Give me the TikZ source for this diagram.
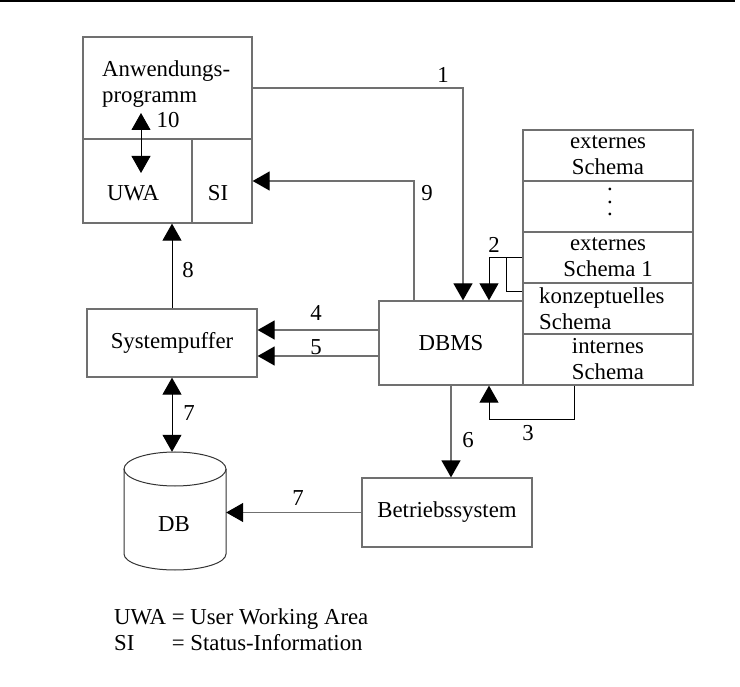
\documentclass[tikz,border=0pt]{standalone}
\usepackage{fontspec}
\setmainfont{Liberation Serif}
\usetikzlibrary{arrows.meta,calc}
\definecolor{Line}{RGB}{112,112,112}

\begin{document}
\begin{tikzpicture}[x=1pt,y=-1pt,
  font=\fontsize{22.8}{26}\selectfont,
  box/.style={draw=Line,line width=1.3pt,rectangle,inner sep=0pt,align=center},
  lbl/.style={inner sep=0pt},
  arr/.style={draw=Line,line width=1.3pt,-{Triangle[length=17pt,width=19pt,color=black]}},
  arrk/.style={draw=black,line width=0.9pt,-{Triangle[length=17pt,width=19pt]}},
  dbl/.style={draw=black,line width=0.9pt,{Triangle[length=17pt,width=19pt]}-{Triangle[length=17pt,width=19pt]}},
  cyl/.style={draw=black!80,line width=1pt}]
  \useasboundingbox (0,0) rectangle (740,687);
  \draw[line width=1.5pt] (0,1) -- (735,1);

  % Anwendungsprogramm
  \node[box,minimum width=169pt,minimum height=102pt] (prog) at (167.5,88) {};
  \node[box,minimum width=109pt,minimum height=84pt] (uwa) at (137.5,181) {};
  \node[box,minimum width=60pt,minimum height=84pt] (si) at (222,181) {};
  \node[lbl,anchor=west,align=left] (progtxt) at (102,84) {Anwendungs-\\programm};
  \node[lbl] (uwatxt) at (133,193) {UWA};
  \node[lbl] (sitxt) at (218,193) {SI};

  % Schemata
  \node[box,minimum width=170pt,minimum height=51pt] (s1) at (608,155.5) {externes\\Schema};
  \node[box,minimum width=170pt,minimum height=51pt] (s2) at (608,206.5) {};
  \node[box,minimum width=170pt,minimum height=51pt] (s3) at (608,257.5) {externes\\Schema 1};
  \node[box,minimum width=170pt,minimum height=51pt] (s4) at (608,308.5) {};
  \node[box,minimum width=170pt,minimum height=51pt] (s5) at (608,359.5) {internes\\Schema};
  \node[lbl] (dots) at (610,202) {\vbox{\baselineskip=12.5pt\lineskiplimit=-20pt\hbox{.}\hbox{.}\hbox{.}}};
  \node[lbl,anchor=west,align=left] (s4txt) at (539,309) {konzeptuelles\\Schema};

  \node[box,minimum width=144pt,minimum height=84pt] (dbms) at (451,343) {DBMS};
  \node[box,minimum width=170pt,minimum height=68pt] (sp) at (172,343) {Systempuffer};
  \node[box,minimum width=170pt,minimum height=69pt] (bs) at (447,512.5) {Betriebssystem};

  % DB
  \node[lbl,minimum width=102pt,minimum height=118pt] (db) at (175,511) {};
  \draw[cyl] (175,469) ellipse [x radius=51, y radius=17];
  \draw[cyl] (124,469) -- (124,554) arc [start angle=180, end angle=0, x radius=51, y radius=16] -- (226,469);
  \node[lbl] (dbtxt) at (174,524) {DB};

  % connectors
  \coordinate (a10) at (141,113);
  \coordinate (b10) at (141,173);
  \coordinate (j2) at ($(s3.west)+(-16,0)$);
  \draw[arr] (prog.east) -| ($(dbms.north)+(12,0)$);
  \draw[arrk] (s3.west) -| ($(dbms.north)+(38,0)$);
  \draw[black,line width=0.9pt] ($(s4.north west)+(0,9)$) -| (j2);
  \draw[arrk] ($(s5.south)+(-34,0)$) -- ++(0,34) -| ($(dbms.south)+(38,0)$);
  \draw[arr] ($(dbms.west)+(0,-13)$) -- ($(sp.east)+(0,-13)$);
  \draw[arr] ($(dbms.west)+(0,13)$) -- ($(sp.east)+(0,13)$);
  \draw[arr] (dbms.south) -- (dbms.south |- bs.north);
  \draw[arr] (bs.west) -- (bs.west -| db.east);
  \draw[dbl] (sp.south) -- (sp.south |- db.north);
  \draw[arrk] (sp.north) -- (sp.north |- uwa.south);
  \draw[arr] ($(dbms.north)+(-37,0)$) |- (si.east);
  \draw[dbl] (a10) -- (b10);

  % numbers
  \node[lbl] (n1) at (443,75) {1};
  \node[lbl] (n2) at (494,245) {2};
  \node[lbl] (n3) at (528,433) {3};
  \node[lbl] (n4) at (316,313) {4};
  \node[lbl] (n5) at (316,347) {5};
  \node[lbl] (n6) at (468,440) {6};
  \node[lbl] (n7a) at (189,413) {7};
  \node[lbl] (n7b) at (298,498) {7};
  \node[lbl] (n8) at (188,270) {8};
  \node[lbl] (n9) at (427,193) {9};
  \node[lbl] (n10) at (168,120) {10};

  % Legende
  \node[lbl,anchor=west] (legend) at (114,632) {\begin{tabular}{@{}l@{ }l@{}}UWA & = User Working Area\\ SI & = Status-Information\end{tabular}};
\end{tikzpicture}
\end{document}
